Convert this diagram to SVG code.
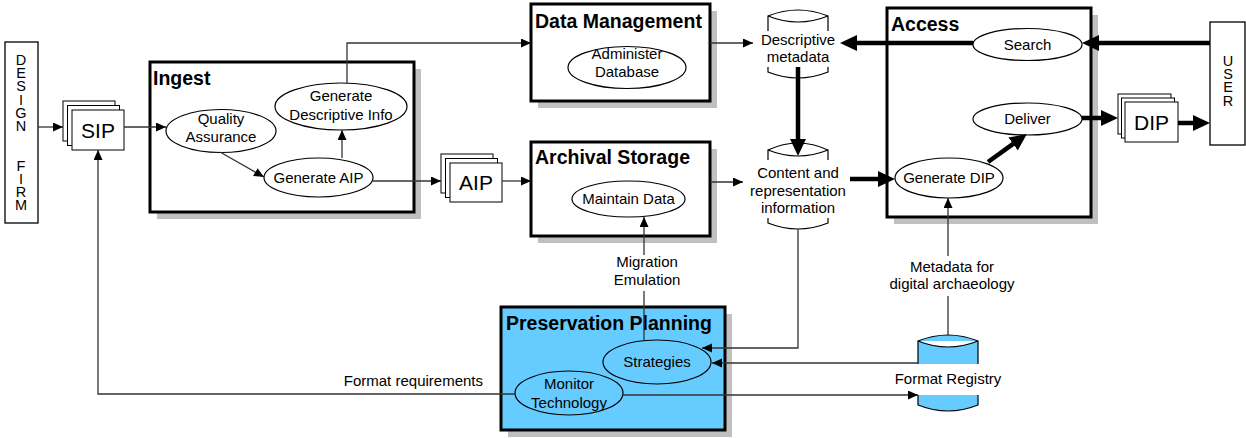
<svg xmlns="http://www.w3.org/2000/svg" width="1246" height="438" viewBox="0 0 1246 438">
<style>
text{font-family:"Liberation Sans",Arial,sans-serif;font-size:15px;fill:#000;text-anchor:middle}
.t{font-size:19.5px;font-weight:bold;text-anchor:start}
.big{font-size:21px}
.vt{writing-mode:vertical-rl;text-orientation:upright;text-anchor:start;font-size:14.5px;letter-spacing:-2.8px}
.box{fill:#fff;stroke:#000;stroke-width:3}
.sh{fill:#c0c0c0}
.ell{fill:none;stroke:#000;stroke-width:1.2}
.ext{fill:#fff;stroke:#000;stroke-width:1.3}
.pk{fill:#fff;stroke:#000;stroke-width:1}
.ln{fill:none;stroke:#333;stroke-width:1.3}
.th{fill:none;stroke:#000;stroke-width:4.5}
.bg{fill:#fff}
.cyl{fill:#fff;stroke:#000;stroke-width:1.2}
</style>
<defs>
<marker id="a" markerUnits="userSpaceOnUse" markerWidth="11" markerHeight="10" refX="10" refY="4.5" orient="auto"><path d="M0,0 L10,4.5 L0,9 Z" fill="#000"/></marker>
<marker id="b" markerUnits="userSpaceOnUse" markerWidth="18" markerHeight="18" refX="11" refY="8" orient="auto"><path d="M0,0 L17,8 L0,16 Z" fill="#000"/></marker>
</defs>
<rect width="1246" height="438" fill="#fff"/>

<g id="design-firm">
<rect class="ext" x="5" y="42" width="33" height="181"/>
<text class="vt" x="21" y="52" xml:space="preserve">DESIGN  FIRM</text>
</g>

<g id="user">
<rect class="ext" x="1210" y="22" width="35" height="123"/>
<text class="vt" x="1228" y="53">USER</text>
</g>

<g id="sip">
<rect class="pk" x="63" y="101" width="52" height="40"/>
<rect class="pk" x="67.5" y="105.5" width="52" height="40"/>
<rect class="pk" x="72" y="110" width="52" height="40"/>
<text class="big" x="98" y="137.5">SIP</text>
</g>

<g id="aip">
<rect class="pk" x="441" y="154" width="52" height="39"/>
<rect class="pk" x="445.5" y="158.5" width="52" height="39"/>
<rect class="pk" x="450" y="163" width="52" height="39"/>
<text class="big" x="476" y="190">AIP</text>
</g>

<g id="dip">
<rect class="pk" x="1118" y="94" width="53" height="40"/>
<rect class="pk" x="1121.5" y="98" width="53" height="40"/>
<rect class="pk" x="1125" y="102" width="53" height="40"/>
<text class="big" x="1151.5" y="129.5">DIP</text>
</g>

<g id="ingest">
<rect class="sh" x="157" y="69" width="264" height="150"/>
<rect class="box" x="150" y="62" width="264" height="150"/>
<text class="t" x="153" y="85">Ingest</text>
<ellipse class="ell" cx="221" cy="131" rx="55" ry="21.5"/>
<text x="221" y="124">Quality<tspan x="221" dy="18">Assurance</tspan></text>
<ellipse class="ell" cx="341" cy="106.5" rx="66" ry="23.5"/>
<text x="341" y="101">Generate<tspan x="341" dy="19">Descriptive Info</tspan></text>
<ellipse class="ell" cx="318.5" cy="177.5" rx="54.5" ry="19.5"/>
<text x="318.5" y="183">Generate AIP</text>
</g>

<g id="data-management">
<rect class="sh" x="538" y="11" width="179" height="97"/>
<rect class="box" x="531" y="4" width="179" height="97"/>
<text class="t" x="535" y="28">Data Management</text>
<ellipse class="ell" cx="627" cy="67.5" rx="59" ry="21"/>
<text x="627" y="59">Administer<tspan x="627" dy="18">Database</tspan></text>
</g>

<g id="archival-storage">
<rect class="sh" x="538" y="149" width="179" height="94"/>
<rect class="box" x="531" y="142" width="179" height="94"/>
<text class="t" x="535" y="164">Archival Storage</text>
<ellipse class="ell" cx="628.5" cy="199" rx="56.5" ry="18"/>
<text x="628.5" y="204">Maintain Data</text>
</g>

<g id="access">
<rect class="sh" x="894" y="15" width="204" height="209"/>
<rect class="box" x="887" y="8" width="204" height="209"/>
<text class="t" x="891" y="31">Access</text>
<ellipse class="ell" cx="1027.5" cy="44.5" rx="54.5" ry="16"/>
<text x="1027.5" y="50">Search</text>
<ellipse class="ell" cx="1027.5" cy="119" rx="54.5" ry="16"/>
<text x="1027.5" y="124">Deliver</text>
<ellipse class="ell" cx="949" cy="178" rx="54" ry="20"/>
<text x="949" y="183">Generate DIP</text>
</g>

<g id="preservation-planning">
<rect class="sh" x="508" y="314" width="224" height="123"/>
<rect class="box" x="501" y="307" width="224" height="123" style="fill:#66ccff"/>
<text class="t" x="506" y="330">Preservation Planning</text>
<ellipse class="ell" cx="657" cy="362" rx="54" ry="22"/>
<text x="657" y="367">Strategies</text>
<ellipse class="ell" cx="569" cy="393" rx="54" ry="22"/>
<text x="569" y="389">Monitor<tspan x="569" dy="19">Technology</tspan></text>
</g>

<g id="descriptive-metadata">
<path class="cyl" d="M768,16 Q798,4 828,16 V72 Q798,84 768,72 Z"/>
<path class="cyl" d="M768,16 Q798,28 828,16" fill="none"/>
<rect class="bg" x="758" y="31" width="80" height="36"/>
<text x="798" y="45">Descriptive<tspan x="798" dy="17">metadata</tspan></text>
</g>

<g id="content-representation">
<path class="cyl" d="M768,150 Q798,136 828,150 V223 Q798,235 768,223 Z"/>
<path class="cyl" d="M768,150 Q798,162 828,150" fill="none"/>
<rect class="bg" x="746" y="160" width="104" height="58"/>
<text x="798" y="178">Content and<tspan x="798" dy="18">representation</tspan><tspan x="798" dy="17">information</tspan></text>
</g>

<g id="format-registry">
<path class="cyl" d="M918,341 Q948,329 978,341 V405 Q948,417 918,405 Z" style="fill:#66ccff"/>
<path class="cyl" d="M918,341 Q948,353 978,341" fill="none"/>
<rect class="bg" x="891" y="364" width="114" height="31"/>
<text x="948" y="384">Format Registry</text>
</g>

<g id="connectors">
<line class="ln" x1="38" y1="127" x2="63" y2="127" marker-end="url(#a)"/>
<line class="ln" x1="124" y1="127" x2="166" y2="127" marker-end="url(#a)"/>
<line class="ln" x1="220" y1="152" x2="264" y2="177" marker-end="url(#a)"/>
<line class="ln" x1="342" y1="158" x2="342" y2="130" marker-end="url(#a)"/>
<polyline class="ln" points="347,83 347,43 531,43" marker-end="url(#a)"/>
<line class="ln" x1="373" y1="181" x2="441" y2="181" marker-end="url(#a)"/>
<line class="ln" x1="502" y1="181" x2="531" y2="181" marker-end="url(#a)"/>
<line class="ln" x1="710" y1="43" x2="753" y2="43" marker-end="url(#a)"/>
<line class="ln" x1="710" y1="182" x2="743" y2="182" marker-end="url(#a)"/>
<polyline class="ln" points="798,229 798,348 702,348" marker-end="url(#a)"/>
<line class="ln" x1="918" y1="363" x2="712" y2="363" marker-end="url(#a)"/>
<line class="ln" x1="623" y1="395" x2="918" y2="395" marker-end="url(#a)"/>
<polyline class="ln" points="515,394 98,394 98,150" marker-end="url(#a)"/>
<line class="ln" x1="644" y1="340" x2="644" y2="217" marker-end="url(#a)"/>
<line class="ln" x1="948" y1="335" x2="948" y2="198" marker-end="url(#a)"/>
<line class="th" x1="798" y1="67" x2="798" y2="150" marker-end="url(#b)"/>
<line class="th" x1="973" y1="43" x2="846" y2="43" marker-end="url(#b)"/>
<line class="th" x1="1210" y1="43" x2="1088" y2="43" marker-end="url(#b)"/>
<line class="th" x1="850" y1="179" x2="889" y2="179" marker-end="url(#b)"/>
<line class="th" x1="988" y1="162" x2="1022" y2="137.5" marker-end="url(#b)"/>
<line class="th" x1="1082" y1="118" x2="1112" y2="118" marker-end="url(#b)"/>
<line class="th" x1="1178" y1="123" x2="1204" y2="123" marker-end="url(#b)"/>
</g>

<g id="labels">
<rect class="bg" x="613" y="255" width="68" height="36"/>
<text x="647" y="267">Migration<tspan x="647" dy="18">Emulation</tspan></text>
<rect class="bg" x="886" y="256" width="132" height="40"/>
<text x="952" y="272">Metadata for<tspan x="952" dy="17">digital archaeology</tspan></text>
<text x="483" y="386" style="text-anchor:end">Format requirements</text>
</g>
</svg>
